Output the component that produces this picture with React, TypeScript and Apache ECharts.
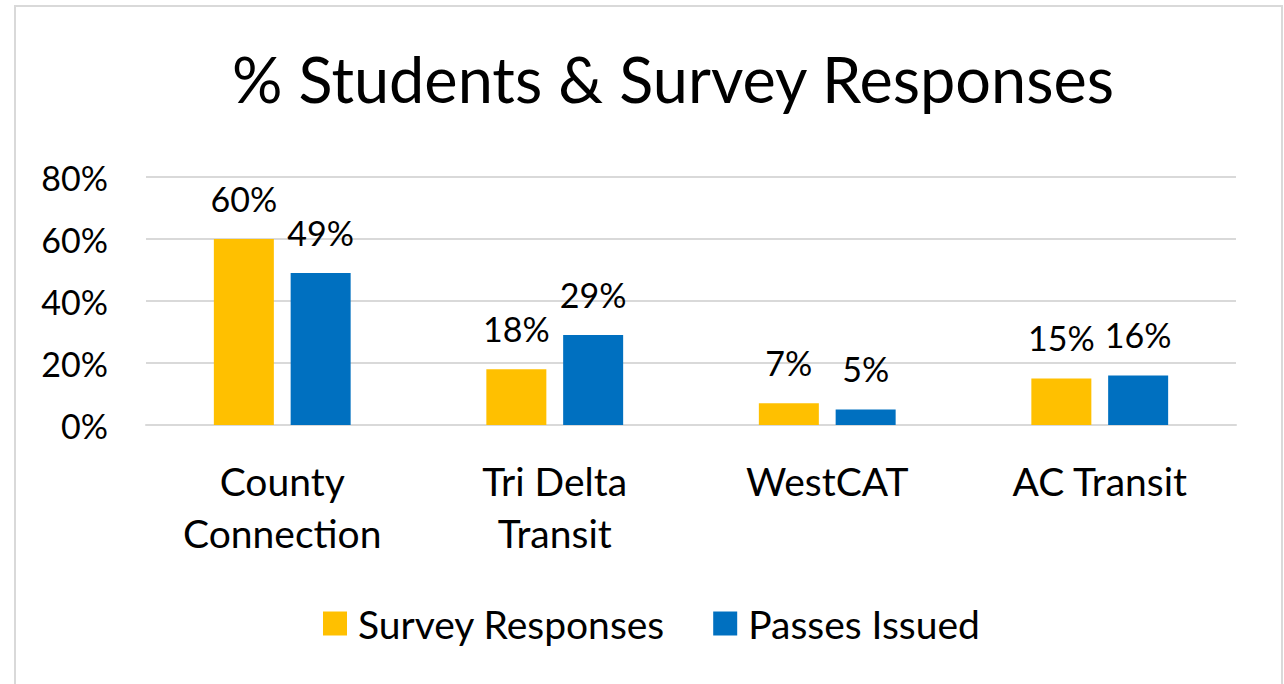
import React, { useEffect, useRef } from "react";
import * as echarts from "echarts";

const categories = ["County\nConnection", "Tri Delta\nTransit", "WestCAT", "AC Transit"];
const surveyResponses = [60, 18, 7, 15];
const passesIssued = [49, 29, 5, 16];
const yTicks = [0, 20, 40, 60, 80];

const FONT = "Lato, 'Open Sans', sans-serif";

export default function App() {
  const ref = useRef<HTMLDivElement>(null);
  useEffect(() => {
    const chart = echarts.init(ref.current!, undefined, { renderer: "svg" });
    const labelCfg = {
      show: true,
      position: "top",
      distance: 24,
      fontFamily: FONT,
      fontSize: 34,
      color: "#000",
      formatter: (p: any) => p.value + "%",
    };
    chart.setOption({
      animation: false,
      backgroundColor: "#ffffff",
      textStyle: { fontFamily: FONT, color: "#000" },
      graphic: [
        {
          type: "rect",
          shape: { x: 15, y: 6, width: 1267, height: 700 },
          style: { fill: "none", stroke: "#d9d9d9", lineWidth: 2 },
          silent: true,
        },
      ],
      title: {
        text: "% Students & Survey Responses",
        left: 227,
        top: 42,
        textStyle: { fontFamily: FONT, fontSize: 63, fontWeight: "normal", color: "#000" },
      },
      legend: {
        top: 599,
        left: 318,
        itemWidth: 24,
        itemHeight: 24,
        itemGap: 48,
        icon: "rect",
        textStyle: { fontFamily: FONT, fontSize: 39, color: "#000", padding: [0, 0, 0, 6] },
        data: ["Survey Responses", "Passes Issued"],
      },
      grid: { left: 146, right: 48, top: 177, bottom: 259, containLabel: false },
      xAxis: {
        type: "category",
        data: categories,
        axisLine: { show: true, lineStyle: { color: "#d9d9d9", width: 2 } },
        axisTick: { show: false },
        axisLabel: {
          fontFamily: FONT,
          fontSize: 39,
          color: "#000",
          margin: 30,
          lineHeight: 52,
          interval: 0,
        },
      },
      yAxis: {
        type: "value",
        min: 0,
        max: 80,
        interval: 20,
        axisLine: { show: false },
        axisTick: { show: false },
        splitLine: { lineStyle: { color: "#d9d9d9", width: 2 } },
        axisLabel: {
          fontFamily: FONT,
          fontSize: 34,
          color: "#000",
          margin: 38,
          formatter: (v: number) => (yTicks.includes(v) ? v + "%" : ""),
        },
      },
      series: [
        {
          name: "Survey Responses",
          type: "bar",
          data: surveyResponses,
          barWidth: 60,
          barGap: "28%",
          itemStyle: { color: "#ffc000" },
          label: labelCfg,
        },
        {
          name: "Passes Issued",
          type: "bar",
          data: passesIssued,
          barWidth: 60,
          itemStyle: { color: "#0070c0" },
          label: labelCfg,
        },
      ],
    });
    return () => chart.dispose();
  }, []);
  return (
    <div
      ref={ref}
      style={{ position: "fixed", left: 0, top: 0, width: 1284, height: 684, background: "#fff" }}
    />
  );
}
